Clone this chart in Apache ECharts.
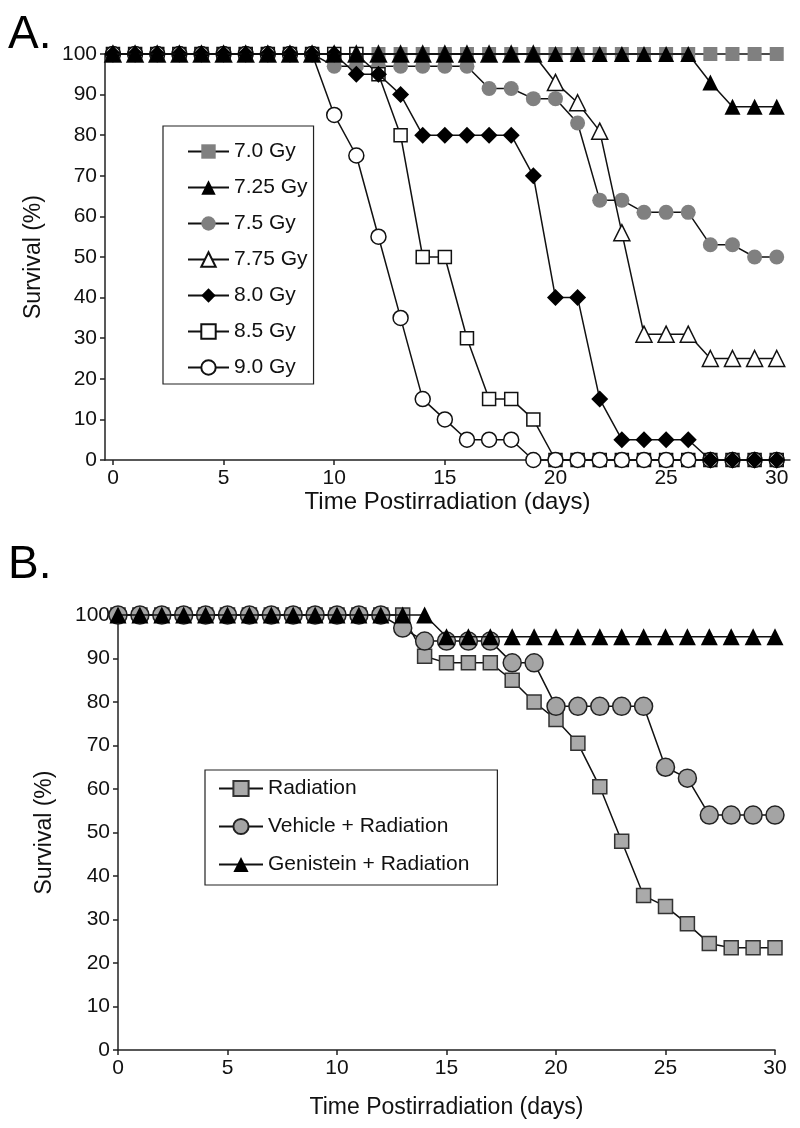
<!DOCTYPE html>
<html>
<head>
<meta charset="utf-8">
<script src="https://cdn.jsdelivr.net/npm/echarts@6/dist/echarts.min.js"></script>
<style>html,body{margin:0;padding:0;background:#fff}#c{width:800px;height:1128px}</style>
</head>
<body>
<div id="c"></div>
<script>
// ---------- DATA ----------
const days = [0,1,2,3,4,5,6,7,8,9,10,11,12,13,14,15,16,17,18,19,20,21,22,23,24,25,26,27,28,29,30];
const xTicks = [0,5,10,15,20,25,30];
const yTicks = [0,10,20,30,40,50,60,70,80,90,100];

// Panel A: survival (%) per day for each dose
const gy70  = [100,100,100,100,100,100,100,100,100,100,100,100,100,100,100,100,100,100,100,100,100,100,100,100,100,100,100,100,100,100,100];
const gy725 = [100,100,100,100,100,100,100,100,100,100,100,100,100,100,100,100,100,100,100,100,100,100,100,100,100,100,100,93,87,87,87];
const gy75  = [100,100,100,100,100,100,100,100,100,100,97,97,97,97,97,97,97,91.5,91.5,89,89,83,64,64,61,61,61,53,53,50,50];
const gy775 = [100,100,100,100,100,100,100,100,100,100,100,100,100,100,100,100,100,100,100,100,93,88,81,56,31,31,31,25,25,25,25];
const gy80  = [100,100,100,100,100,100,100,100,100,100,100,95,95,90,80,80,80,80,80,70,40,40,15,5,5,5,5,0,0,0,0];
const gy85  = [100,100,100,100,100,100,100,100,100,100,100,100,95,80,50,50,30,15,15,10,0,0,0,0,0,0,0,0,0,0,0];
const gy90  = [100,100,100,100,100,100,100,100,100,100,85,75,55,35,15,10,5,5,5,0,0,0,0,0,0,0,0,0,0,0,0];

// Panel B
const radiation = [100,100,100,100,100,100,100,100,100,100,100,100,100,100,90.5,89,89,89,85,80,76,70.5,60.5,48,35.5,33,29,24.5,23.5,23.5,23.5];
const vehicle   = [100,100,100,100,100,100,100,100,100,100,100,100,100,97,94,94,94,94,89,89,79,79,79,79,79,65,62.5,54,54,54,54];
const genistein = [100,100,100,100,100,100,100,100,100,100,100,100,100,100,100,95,95,95,95,95,95,95,95,95,95,95,95,95,95,95,95];

const namesA = ['7.0 Gy','7.25 Gy','7.5 Gy','7.75 Gy','8.0 Gy','8.5 Gy','9.0 Gy'];
const namesB = ['Radiation','Vehicle + Radiation','Genistein + Radiation'];
const xTitle = 'Time Postirradiation (days)';
const yTitle = 'Survival (%)';

// ---------- CHART ----------
const FONT = '"Liberation Sans", Arial, Helvetica, sans-serif';
const pair = arr => days.map((d,i)=>[d, arr[i]]);

function axisCommon(ticks, nameSize){
  return {
    axisLine:{show:true,onZero:false,lineStyle:{color:'#222',width:1.5}},
    axisTick:{show:true,inside:false,length:5,lineStyle:{color:'#222',width:1.5},customValues:ticks},
    splitLine:{show:false},
    axisLabel:{color:'#111',fontSize:21,fontFamily:FONT,margin:8,customValues:ticks},
    nameTextStyle:{color:'#111',fontSize:nameSize,fontFamily:FONT}
  };
}

function mk(name, data, gi, symbol, size, fill, border, bw, z){
  return {
    name, type:'line', xAxisIndex:gi, yAxisIndex:gi, data:pair(data),
    symbol, symbolSize:size, showSymbol:true, clip:false, z:z,
    lineStyle:{color:'#111',width:1.5},
    itemStyle:{color:fill,borderColor:border,borderWidth:bw,opacity:1},
    emphasis:{disabled:true}, animation:false
  };
}

const chart = echarts.init(document.getElementById('c'), null, {renderer:'canvas'});
const option = {
  backgroundColor:'#fff',
  animation:false,
  graphic:[
    {type:'text',left:8,top:12,style:{text:'A.',fontSize:46,fontFamily:FONT,fill:'#000'}},
    {type:'text',left:8,top:542,style:{text:'B.',fontSize:46,fontFamily:FONT,fill:'#000'}}
  ],
  grid:[
    {left:105,top:54,width:685,height:406,containLabel:false},
    {left:118,top:615,width:657,height:435,containLabel:false}
  ],
  xAxis:[
    Object.assign(axisCommon(xTicks,24),{gridIndex:0,type:'value',min:-0.36,max:30.6,
      name:xTitle,nameLocation:'middle',nameGap:24}),
    Object.assign(axisCommon(xTicks,23),{gridIndex:1,type:'value',min:0,max:30,interval:5,
      name:xTitle,nameLocation:'middle',nameGap:46})
  ],
  yAxis:[
    Object.assign(axisCommon(yTicks,23),{gridIndex:0,type:'value',min:0,max:100,interval:10,
      name:yTitle,nameLocation:'middle',nameGap:60}),
    Object.assign(axisCommon(yTicks,23),{gridIndex:1,type:'value',min:0,max:100,interval:10,
      name:yTitle,nameLocation:'middle',nameGap:62})
  ],
  legend:[
    {data:namesA,orient:'vertical',left:163,top:126,itemWidth:41,itemHeight:18,itemGap:15,
     padding:[15,6,6,24],borderColor:'#222',borderWidth:1.2,backgroundColor:'#fff',
     textStyle:{fontSize:21,fontFamily:FONT,color:'#111'},selectedMode:false},
    {data:namesB,orient:'vertical',left:205,top:770,itemWidth:44,itemHeight:19,itemGap:17,
     padding:[8,28,10,13],borderColor:'#222',borderWidth:1.2,backgroundColor:'#fff',
     textStyle:{fontSize:21,fontFamily:FONT,color:'#111'},selectedMode:false}
  ],
  series:[
    mk('7.0 Gy', gy70, 0, 'rect', 14, '#808080', '#808080', 0, 2),
    mk('7.5 Gy', gy75, 0, 'circle', 15, '#808080', '#808080', 0, 3),
    mk('8.5 Gy', gy85, 0, 'rect', 13, '#fff', '#111', 1.5, 4),
    mk('9.0 Gy', gy90, 0, 'circle', 15, '#fff', '#111', 1.5, 5),
    mk('7.75 Gy', gy775, 0, 'triangle', 16, '#fff', '#111', 1.5, 6),
    mk('8.0 Gy', gy80, 0, 'diamond', 17, '#000', '#000', 0, 7),
    mk('7.25 Gy', gy725, 0, 'triangle', 16, '#000', '#000', 0, 8),
    mk('Radiation', radiation, 1, 'rect', 14, '#aaaaaa', '#333', 1.5, 2),
    mk('Vehicle + Radiation', vehicle, 1, 'circle', 18, '#a4a4a4', '#222', 1.5, 3),
    mk('Genistein + Radiation', genistein, 1, 'triangle', 17, '#000', '#000', 0, 4)
  ]
};
chart.setOption(option);
</script>
</body>
</html>
